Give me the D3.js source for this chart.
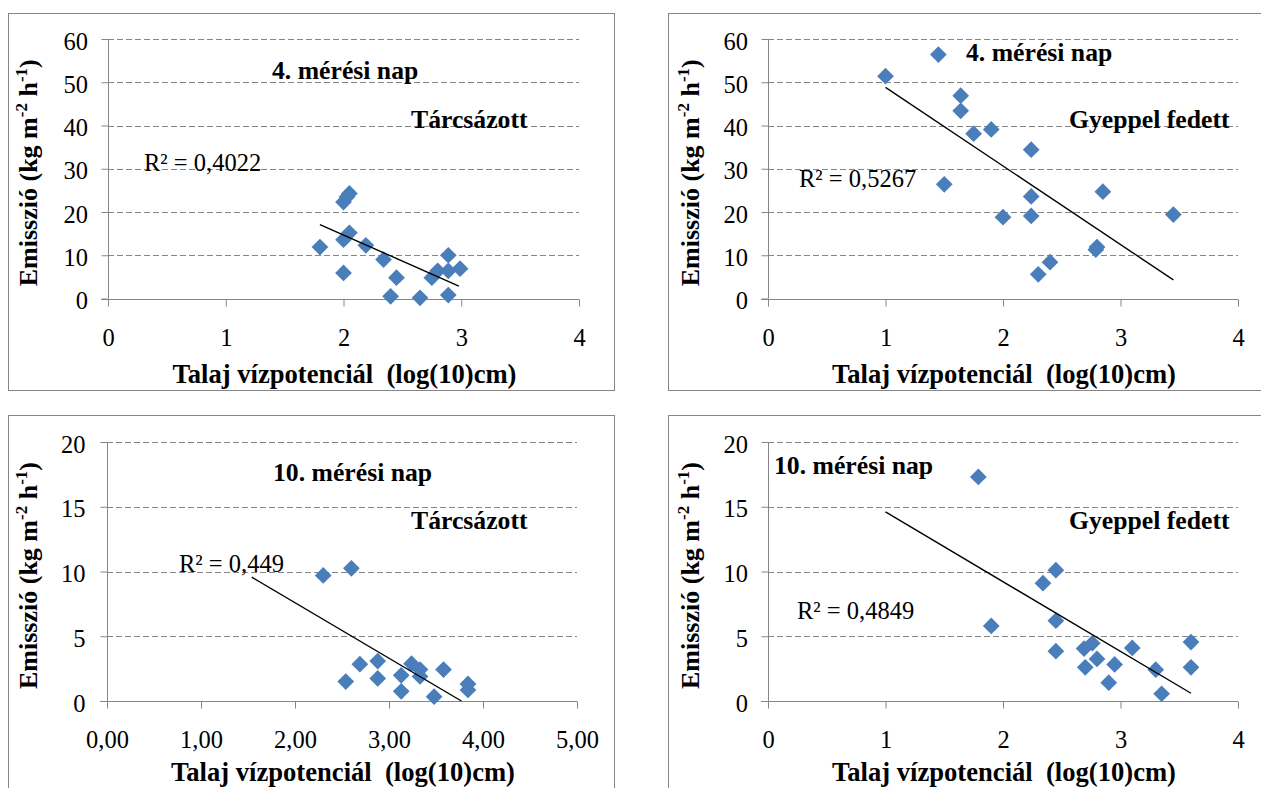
<!DOCTYPE html>
<html><head><meta charset="utf-8">
<script src="https://cdn.jsdelivr.net/npm/d3@7"></script>
<style>
html,body{margin:0;padding:0;background:#fff;}
svg{display:block;}
text{font-family:"Liberation Serif","Times New Roman",serif;fill:#000;}
</style></head>
<body>
<svg id="chart" width="1261" height="788"></svg>
<script>
// ---- data ----
const p1X = [1.80, 2.00, 2.03, 2.05, 2.00, 2.05, 2.19, 2.34, 2.45, 2.00, 2.40, 2.65, 2.75, 2.80, 2.89, 2.89, 2.99, 2.89];
const p1Y = [11.9, 22.3, 23.5, 24.3, 13.6, 15.2, 12.3, 9.0, 4.8, 5.9, 0.5, 0.15, 4.8, 6.4, 10.0, 6.4, 6.9, 0.8];
const p1TrendX = [1.80, 2.98];
const p1TrendY = [17.1, 2.85];

const p2X = [1.00, 1.45, 1.64, 1.64, 1.75, 1.90, 1.50, 2.24, 2.24, 2.24, 2.00, 2.30, 2.40, 2.80, 2.79, 2.85, 3.45];
const p2Y = [51.4, 56.4, 46.9, 43.4, 38.1, 39.1, 26.4, 34.4, 23.6, 19.1, 18.8, 5.6, 8.4, 11.9, 11.3, 24.7, 19.4];
const p2TrendX = [1.00, 3.45];
const p2TrendY = [48.8, 4.3];

const p3X = [2.30, 2.60, 2.54, 2.69, 2.88, 2.88, 3.13, 3.13, 3.24, 3.33, 3.33, 3.48, 3.58, 3.84, 3.84];
const p3Y = [9.7, 10.25, 1.5, 2.84, 3.08, 1.74, 1.98, 0.75, 2.88, 2.43, 1.9, 0.33, 2.43, 1.32, 0.85];
const p3TrendX = [1.54, 3.77];
const p3TrendY = [9.56, 0.0];

const p4X = [1.79, 1.90, 2.34, 2.45, 2.45, 2.45, 2.69, 2.76, 2.70, 2.80, 2.95, 2.90, 3.10, 3.30, 3.35, 3.60, 3.60];
const p4Y = [17.3, 5.8, 9.1, 10.1, 6.2, 3.85, 4.05, 4.46, 2.6, 3.25, 2.82, 1.41, 4.1, 2.42, 0.56, 4.55, 2.6];
const p4TrendX = [1.00, 3.60];
const p4TrendY = [14.6, 0.6];

const xTicks4 = [0, 1, 2, 3, 4];
const xTicks5 = [0, 1, 2, 3, 4, 5];
const yTicks60 = [0, 10, 20, 30, 40, 50, 60];
const yTicks20 = [0, 5, 10, 15, 20];

const dayLabels = ["4. mérési nap", "4. mérési nap", "10. mérési nap", "10. mérési nap"];
const treatLabels = ["Tárcsázott", "Gyeppel fedett", "Tárcsázott", "Gyeppel fedett"];
const r2Labels = ["R² = 0,4022", "R² = 0,5267", "R² = 0,449", "R² = 0,4849"];
const xTitle = "Talaj vízpotenciál\u00a0 (log(10)cm)";

// ---- layout ----
const panels = [
  {xs:p1X, ys:p1Y, tx:p1TrendX, ty:p1TrendY, xDom:[0,4], xTicks:xTicks4, xFmt:d3.format("d"),
   yDom:[0,60], yTicks:yTicks60, frame:[8,13,606,377], xr:[108,579], yr:[298.5,39],
   day:[272,78.5], treat:[411,127.5], r2:[144,170.5], ytx:37, ylabR:87.5, xlabY:345, xtitY:383},
  {xs:p2X, ys:p2Y, tx:p2TrendX, ty:p2TrendY, xDom:[0,4], xTicks:xTicks4, xFmt:d3.format("d"),
   yDom:[0,60], yTicks:yTicks60, frame:[668,13,620,377], xr:[768,1238], yr:[298.5,39],
   day:[966,61], treat:[1069,127.5], r2:[799,186.5], ytx:699, ylabR:747.5, xlabY:345, xtitY:383},
  {xs:p3X, ys:p3Y, tx:p3TrendX, ty:p3TrendY, xDom:[0,5], xTicks:xTicks5, xFmt:(d=>d3.format(".2f")(d).replace(".", ",")),
   yDom:[0,20], yTicks:yTicks20, frame:[8,415,606,400], xr:[107,577], yr:[701,442],
   day:[273,481], treat:[411,528.5], r2:[179,571.5], ytx:37, ylabR:85, xlabY:747, xtitY:781},
  {xs:p4X, ys:p4Y, tx:p4TrendX, ty:p4TrendY, xDom:[0,4], xTicks:xTicks4, xFmt:d3.format("d"),
   yDom:[0,20], yTicks:yTicks20, frame:[668,415,620,400], xr:[768,1238], yr:[701,442],
   day:[774,474], treat:[1069,529], r2:[797,619], ytx:699, ylabR:747.5, xlabY:747, xtitY:781}
];

const gridCol = "#868686";
const markCol = "#4a7ebb";
const svg = d3.select("#chart");
svg.append("rect").attr("width",1261).attr("height",788).attr("fill","#fff");

panels.forEach((p, i) => {
  const g = svg.append("g");
  g.append("rect").attr("x",p.frame[0]+0.5).attr("y",p.frame[1]+0.5)
    .attr("width",p.frame[2]).attr("height",p.frame[3])
    .attr("fill","none").attr("stroke",gridCol).attr("stroke-width",1);

  const x = d3.scaleLinear().domain(p.xDom).range(p.xr);
  const y = d3.scaleLinear().domain(p.yDom).range(p.yr);

  // gridlines (dashed), skip 0
  g.selectAll(".grid").data(p.yTicks.filter(t => t > 0)).enter().append("line")
    .attr("x1", p.xr[0]).attr("x2", p.xr[1])
    .attr("y1", d => Math.round(y(d))+0.5).attr("y2", d => Math.round(y(d))+0.5)
    .attr("stroke", gridCol).attr("stroke-width",1.2).attr("stroke-dasharray","6,3");

  // y axis
  const yAxis = d3.axisLeft(y).tickValues(p.yTicks).tickSize(7).tickPadding(0).tickFormat(d3.format("d"));
  const ya = g.append("g").attr("transform", `translate(${Math.round(p.xr[0])+0.5},0)`).call(yAxis);
  ya.select(".domain").attr("stroke", gridCol).attr("d", `M0,${p.yr[1]}V${p.yr[0]}`);
  ya.selectAll(".tick line").attr("stroke", gridCol);
  ya.selectAll(".tick text").attr("x", p.ylabR - p.xr[0]).attr("dy", 10)
    .style("font-family",'"Liberation Serif",serif').style("font-size","24.5px").attr("fill","#000");

  // x axis
  const xAxis = d3.axisBottom(x).tickValues(p.xTicks).tickSize(7).tickPadding(0).tickFormat(p.xFmt);
  const xa = g.append("g").attr("transform", `translate(0,${Math.round(p.yr[0])+0.5})`).call(xAxis);
  xa.select(".domain").attr("stroke", gridCol).attr("d", `M${p.xr[0]-7},0H${p.xr[1]}`);
  xa.selectAll(".tick line").attr("stroke", gridCol);
  xa.selectAll(".tick text").attr("y", p.xlabY - p.yr[0]).attr("dy", 0)
    .style("font-family",'"Liberation Serif",serif').style("font-size","24.5px").attr("fill","#000");

  // markers
  const sym = d3.symbol().type(d3.symbolSquare).size(140);
  g.selectAll(".pt").data(p.xs.map((v,k) => [v, p.ys[k]])).enter().append("path")
    .attr("d", sym)
    .attr("transform", d => `translate(${x(d[0])},${y(d[1])}) rotate(45)`)
    .attr("fill", markCol);

  // trendline
  const line = d3.line().x(d => x(d[0])).y(d => y(d[1]));
  g.append("path").datum(p.tx.map((v,k) => [v, p.ty[k]]))
    .attr("d", line).attr("stroke","#000").attr("stroke-width",1.4).attr("fill","none");

  // labels
  g.append("text").attr("x", p.day[0]).attr("y", p.day[1]).attr("font-weight","bold")
    .attr("font-size", 25.7).text(dayLabels[i]);
  g.append("text").attr("x", p.treat[0]).attr("y", p.treat[1]).attr("font-weight","bold")
    .attr("font-size", 25.7).text(treatLabels[i]);
  g.append("text").attr("x", p.r2[0]).attr("y", p.r2[1])
    .attr("font-size", 24.5).text(r2Labels[i]);

  // x title
  g.append("text").attr("x", (p.xr[0]+p.xr[1])/2 + 1).attr("y", p.xtitY).attr("text-anchor","middle")
    .attr("font-weight","bold").attr("font-size", 26.6).text(xTitle);

  // y title
  const cy = (p.yr[0]+p.yr[1])/2 + 4;
  const yt = g.append("text").attr("transform", `translate(${p.ytx},${cy}) rotate(-90)`)
    .attr("text-anchor","middle").attr("font-weight","bold").attr("font-size", 26);
  yt.append("tspan").text("Emisszió (kg m");
  yt.append("tspan").attr("dy",-10).attr("font-size",17).text("-2");
  yt.append("tspan").attr("dy",10).text(" h");
  yt.append("tspan").attr("dy",-10).attr("font-size",17).text("-1");
  yt.append("tspan").attr("dy",10).text(")");
});
</script>
</body></html>
